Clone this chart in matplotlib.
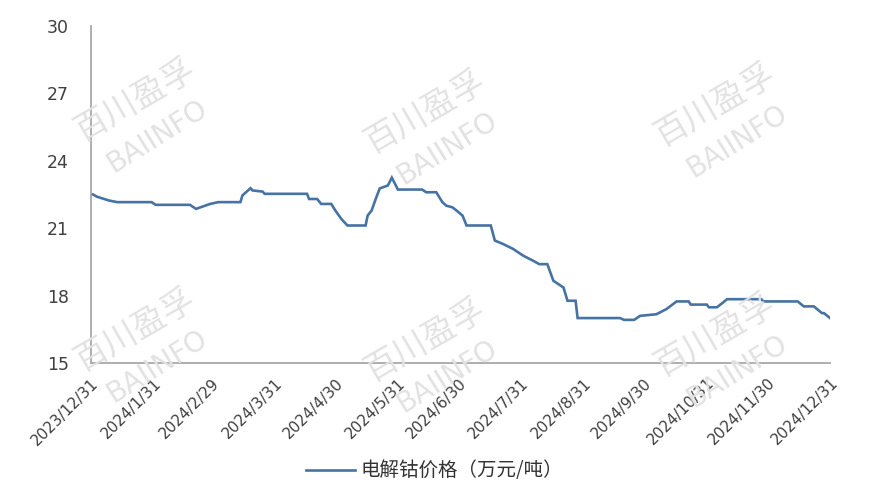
import matplotlib
matplotlib.use("Agg")
import matplotlib.pyplot as plt
import numpy as np
import pandas as pd

# ---- data ----
dates = [
    "2024-01-01", "2024-01-03", "2024-01-09", "2024-01-13", "2024-01-30", "2024-02-01",
    "2024-02-18", "2024-02-21", "2024-02-28", "2024-03-03", "2024-03-14", "2024-03-15",
    "2024-03-19", "2024-03-20", "2024-03-25", "2024-03-26", "2024-04-16", "2024-04-17",
    "2024-04-21", "2024-04-23", "2024-04-28", "2024-04-30", "2024-05-03", "2024-05-06",
    "2024-05-15", "2024-05-16", "2024-05-18", "2024-05-20", "2024-05-22", "2024-05-26",
    "2024-05-28", "2024-05-31", "2024-06-12", "2024-06-14", "2024-06-19", "2024-06-22",
    "2024-06-24", "2024-06-27", "2024-06-29", "2024-07-02", "2024-07-04", "2024-07-16",
    "2024-07-18", "2024-07-22", "2024-07-27", "2024-08-01", "2024-08-06", "2024-08-09",
    "2024-08-13", "2024-08-16", "2024-08-21", "2024-08-23", "2024-08-27", "2024-08-28",
    "2024-09-18", "2024-09-20", "2024-09-25", "2024-09-28", "2024-10-06", "2024-10-11",
    "2024-10-16", "2024-10-22", "2024-10-23", "2024-10-31", "2024-11-01", "2024-11-05",
    "2024-11-08", "2024-11-10", "2024-11-27", "2024-11-28", "2024-12-15", "2024-12-18",
    "2024-12-23", "2024-12-27", "2024-12-28", "2024-12-31",
]
prices = [
    22.50, 22.40, 22.23, 22.16, 22.16, 22.04,
    22.04, 21.86, 22.08, 22.16, 22.16, 22.46,
    22.78, 22.68, 22.63, 22.53, 22.53, 22.30,
    22.30, 22.08, 22.08, 21.79, 21.41, 21.12,
    21.12, 21.56, 21.79, 22.30, 22.77, 22.90,
    23.25, 22.72, 22.72, 22.60, 22.60, 22.16,
    22.00, 21.93, 21.79, 21.56, 21.12, 21.12,
    20.45, 20.30, 20.08, 19.78, 19.55, 19.40,
    19.40, 18.66, 18.36, 17.77, 17.77, 17.00,
    17.00, 16.92, 16.92, 17.10, 17.17, 17.40,
    17.74, 17.74, 17.60, 17.60, 17.48, 17.48,
    17.69, 17.84, 17.84, 17.74, 17.74, 17.52,
    17.52, 17.22, 17.22, 17.00,
]
tick_dates = ["2023-12-31", "2024-01-31", "2024-02-29", "2024-03-31", "2024-04-30",
              "2024-05-31", "2024-06-30", "2024-07-31", "2024-08-31", "2024-09-30",
              "2024-10-31", "2024-11-30", "2024-12-31"]
tick_labels = ["2023/12/31", "2024/1/31", "2024/2/29", "2024/3/31", "2024/4/30",
               "2024/5/31", "2024/6/30", "2024/7/31", "2024/8/31", "2024/9/30",
               "2024/10/31", "2024/11/30", "2024/12/31"]
y_ticks = [15, 18, 21, 24, 27, 30]
series_name = "电解钴价格（万元/吨）"

plt.rcParams['font.family'] = ['DejaVu Sans', 'Noto Sans CJK SC']

W, H = 870, 492
fig = plt.figure(figsize=(W / 100, H / 100), dpi=100)
ax = fig.add_axes([91 / W, 1 - 363 / H, (830 - 91) / W, (363 - 26) / H])

x = pd.to_datetime(dates)
line_color = "#4673a3"
ax.plot(x, prices, color=line_color, lw=1.9, solid_joinstyle='miter', zorder=3,
        label=series_name)

ax.set_ylim(15, 30)
ax.set_yticks(y_ticks)
ax.set_xlim(pd.Timestamp(tick_dates[0]), pd.Timestamp(tick_dates[-1]))
ax.set_xticks(pd.to_datetime(tick_dates))
ax.set_xticklabels(tick_labels, rotation=45, ha='right', va='top',
                   rotation_mode='anchor')

for s in ['top', 'right']:
    ax.spines[s].set_visible(False)
for s in ['left', 'bottom']:
    ax.spines[s].set_color('#a8a8a8')
    ax.spines[s].set_linewidth(1.3)

ax.tick_params(axis='y', length=0, pad=16, labelsize=12.5, labelcolor='#404040')
ax.tick_params(axis='x', length=0, pad=9, labelsize=11, labelcolor='#404040')

# watermarks
wm_centers = [(135, 100), (425, 112), (715, 105), (135, 330), (425, 340), (715, 335)]
for cx, cy in wm_centers:
    fig.text(cx / W, 1 - cy / H, "百川盈孚", fontsize=24, color='#e2e2e2',
             family=['Noto Sans CJK SC', 'DejaVu Sans'], rotation=30,
             ha='center', va='center', zorder=0)
    fig.text((cx + 22) / W, 1 - (cy + 36) / H, "BAIINFO", fontsize=20, color='#e2e2e2',
             family=['DejaVu Sans'], rotation=32,
             ha='center', va='center', zorder=0)

leg = fig.legend(loc='lower center', bbox_to_anchor=(0.5, 0.0), frameon=False,
                 prop={'family': ['Noto Sans CJK SC', 'DejaVu Sans'], 'size': 14},
                 handlelength=2.5, handletextpad=0.3, borderpad=0.05)
for t in leg.get_texts():
    t.set_color('#333333')

fig.savefig("out.png", dpi=100)
